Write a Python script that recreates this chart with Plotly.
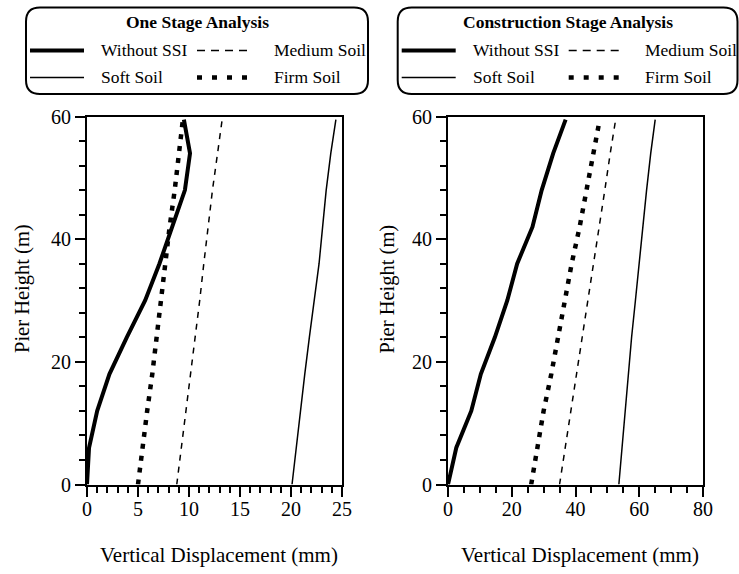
import plotly.graph_objects as go

# Figure size in pixels
W, H = 739, 574

# Pier height stations (m)
heights = [0, 6, 12, 18, 24, 30, 36, 42, 48, 54, 59.5]

# One stage analysis: vertical displacement (mm)
one_without_ssi = [0.0, 0.2, 1.0, 2.2, 3.9, 5.7, 7.1, 8.35, 9.6, 10.1, 9.5]
one_soft = [20.1, 20.5, 20.95, 21.35, 21.8, 22.25, 22.75, 23.1, 23.45, 23.9, 24.4]
one_medium = [8.8, 9.25, 9.75, 10.2, 10.65, 11.05, 11.45, 11.85, 12.3, 12.8, 13.25]
one_firm = [5.0, 5.4, 5.9, 6.4, 6.8, 7.2, 7.7, 8.1, 8.6, 9.0, 9.4]

# Construction stage analysis: vertical displacement (mm)
cs_without_ssi = [0.0, 2.6, 7.3, 10.3, 14.7, 18.6, 21.7, 26.5, 29.4, 33.0, 36.9]
cs_soft = [53.6, 54.6, 55.6, 56.5, 57.6, 58.8, 59.9, 61.0, 62.3, 63.6, 65.0]
cs_medium = [35.0, 36.8, 38.6, 40.3, 42.1, 43.9, 45.6, 47.4, 49.2, 50.9, 52.6]
cs_firm = [26.1, 27.9, 30.0, 32.4, 34.6, 36.5, 38.8, 41.3, 43.5, 45.6, 47.6]

panel_titles = ["One Stage Analysis", "Construction Stage Analysis"]
series_names = ["Without SSI", "Soft Soil", "Medium Soil", "Firm Soil"]
x_title = "Vertical Displacement (mm)"
y_title = "Pier Height (m)"

FONT = "Liberation Serif, Times New Roman, serif"

# line styles: (width, dash)
styles = {
    "Without SSI": (4, "solid"),
    "Soft Soil": (1.5, "solid"),
    "Medium Soil": (1.5, "6px,6px"),
    "Firm Soil": (4.5, "5px,7px"),
}
legend_styles = {
    "Without SSI": (4, "solid"),
    "Soft Soil": (1.5, "solid"),
    "Medium Soil": (1.5, "8px,6px"),
    "Firm Soil": (4.5, "5px,10px"),
}


def px(x):
    return x / W


def py(y):
    return 1 - y / H


fig = go.Figure()

panels = [
    ("x", "y", [one_without_ssi, one_soft, one_medium, one_firm]),
    ("x2", "y2", [cs_without_ssi, cs_soft, cs_medium, cs_firm]),
]
for xa, ya, data in panels:
    for name, vals in zip(series_names, data):
        w, d = styles[name]
        fig.add_trace(go.Scatter(
            x=vals, y=heights, mode="lines", name=name, showlegend=False,
            line=dict(color="black", width=w, dash=d),
            xaxis=xa, yaxis=ya,
        ))

axis_common = dict(
    showline=True, mirror=True, linecolor="black", linewidth=2,
    ticks="outside", ticklen=10, tickwidth=2, tickcolor="black",
    showgrid=False, zeroline=False, automargin=False,
    tickfont=dict(family=FONT, size=20, color="black"),
)
minor_common = dict(ticks="outside", ticklen=6, tickwidth=2, tickcolor="black", showgrid=False)

y_dom = [py(484.5), py(116.5)]
fig.update_layout(
    xaxis=dict(domain=[px(87), px(342)], range=[0, 25], dtick=5, anchor="y",
               ticklabelstandoff=-5,
               minor=dict(dtick=1, **minor_common), **axis_common),
    yaxis=dict(domain=y_dom, range=[0, 60], dtick=20, anchor="x",
               minor=dict(dtick=4, **minor_common), **axis_common),
    xaxis2=dict(domain=[px(448), px(703)], range=[0, 80], dtick=20, anchor="y2",
                ticklabelstandoff=-5,
                minor=dict(dtick=5, **minor_common), **axis_common),
    yaxis2=dict(domain=y_dom, range=[0, 60], dtick=20, anchor="x2",
                minor=dict(dtick=4, **minor_common), **axis_common),
)

annotations = []
shapes = []

# axis titles
for cx, ycx in [(219, 22), (580, 386.5)]:
    annotations.append(dict(
        x=px(cx), y=py(555), xref="paper", yref="paper", text=x_title,
        showarrow=False, xanchor="center", yanchor="middle",
        font=dict(family=FONT, size=21, color="black"),
    ))
    annotations.append(dict(
        x=px(ycx), y=py(289), xref="paper", yref="paper", text=y_title,
        showarrow=False, xanchor="center", yanchor="middle", textangle=-90,
        font=dict(family=FONT, size=20.5, color="black"),
    ))


def rounded_box(x0, y0, x1, y1, r):
    X0, X1 = px(x0), px(x1)
    Y0, Y1 = py(y0), py(y1)  # Y0 top, Y1 bottom in paper coords
    rx = r / W
    ry = r / H
    return (
        f"M {X0 + rx},{Y0} L {X1 - rx},{Y0} Q {X1},{Y0} {X1},{Y0 - ry} "
        f"L {X1},{Y1 + ry} Q {X1},{Y1} {X1 - rx},{Y1} "
        f"L {X0 + rx},{Y1} Q {X0},{Y1} {X0},{Y1 + ry} "
        f"L {X0},{Y0 - ry} Q {X0},{Y0} {X0 + rx},{Y0} Z"
    )


# legend boxes
boxes = [(26, 368), (397.7, 737.5)]
row_y = [50.5, 77.5]
for (bx0, bx1), title in zip(boxes, panel_titles):
    shapes.append(dict(
        type="path", xref="paper", yref="paper",
        path=rounded_box(bx0, 7.5, bx1, 94, 14),
        line=dict(color="black", width=2), fillcolor="rgba(0,0,0,0)",
    ))
    annotations.append(dict(
        x=px((bx0 + bx1) / 2), y=py(22.5), xref="paper", yref="paper",
        text=f"<b>{title}</b>", showarrow=False, xanchor="center", yanchor="middle",
        font=dict(family=FONT, size=17.5, color="black"),
    ))
    entries = [
        ("Without SSI", 0, 0), ("Medium Soil", 1, 0),
        ("Soft Soil", 0, 1), ("Firm Soil", 1, 1),
    ]
    for name, col, row in entries:
        w, d = legend_styles[name]
        if col == 0:
            lx0, lx1, tx = bx0 + 4, bx0 + 58, bx0 + 73
        else:
            lx0, lx1, tx = bx0 + 171, bx0 + 222, bx0 + 245.5
        yy = row_y[row]
        shapes.append(dict(
            type="line", xref="paper", yref="paper",
            x0=px(lx0), x1=px(lx1), y0=py(yy), y1=py(yy),
            line=dict(color="black", width=w, dash=d),
        ))
        annotations.append(dict(
            x=px(tx), y=py(yy - 0.5), xref="paper", yref="paper", text=name,
            showarrow=False, xanchor="left", yanchor="middle",
            font=dict(family=FONT, size=17.5, color="black"),
        ))

fig.update_layout(
    width=W, height=H, autosize=False,
    margin=dict(l=0, r=0, t=0, b=0, autoexpand=False),
    paper_bgcolor="white", plot_bgcolor="white",
    showlegend=False,
    annotations=annotations, shapes=shapes,
    font=dict(family=FONT, color="black"),
)

fig.write_html("out.html")
